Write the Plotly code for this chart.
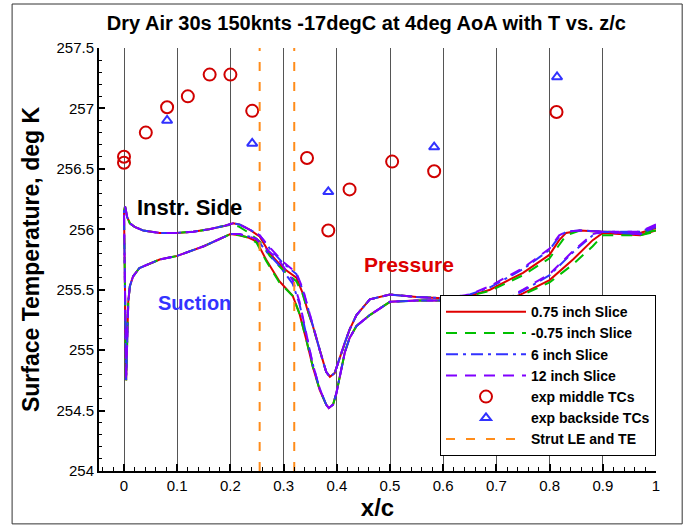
import plotly.graph_objects as go

# ---------------- data ----------------
# Branch A (instrumented side, shallow dip), leading edge -> trailing edge
xa = [0.000, 0.002, 0.006, 0.011, 0.020, 0.036, 0.067, 0.100, 0.130, 0.160, 0.190, 0.205,
      0.217, 0.235, 0.255, 0.274, 0.299, 0.324, 0.336, 0.345, 0.355, 0.368, 0.380, 0.387,
      0.396, 0.405, 0.415, 0.424, 0.437, 0.462, 0.500, 0.550, 0.600, 0.650, 0.688, 0.750,
      0.800, 0.818, 0.831, 0.857, 0.900, 0.970, 1.000]
ta_075 = [256.15, 256.19, 256.10, 256.05, 256.02, 255.99, 255.97, 255.97, 255.98, 256.00, 256.03, 256.05,
          256.04, 256.00, 255.94, 255.80, 255.68, 255.60, 255.47, 255.33, 255.20, 255.00, 254.82, 254.78,
          254.81, 254.92, 255.06, 255.17, 255.29, 255.42, 255.46, 255.44, 255.43, 255.45, 255.50, 255.64,
          255.79, 255.91, 255.97, 255.99, 255.98, 255.97, 256.01]
ta_m075 = [256.15, 256.19, 256.10, 256.05, 256.02, 255.99, 255.97, 255.97, 255.98, 256.00, 256.03, 256.04,
           256.02, 255.97, 255.90, 255.78, 255.66, 255.57, 255.46, 255.33, 255.20, 255.00, 254.82, 254.78,
           254.81, 254.92, 255.06, 255.17, 255.29, 255.42, 255.46, 255.44, 255.43, 255.45, 255.49, 255.62,
           255.76, 255.87, 255.95, 255.99, 255.98, 255.97, 255.99]
ta_6 = [256.15, 256.19, 256.10, 256.05, 256.02, 255.99, 255.97, 255.97, 255.98, 256.00, 256.03, 256.05,
        256.04, 256.00, 255.95, 255.84, 255.72, 255.63, 255.50, 255.35, 255.21, 255.00, 254.82, 254.78,
        254.81, 254.92, 255.06, 255.17, 255.29, 255.42, 255.46, 255.44, 255.43, 255.46, 255.52, 255.67,
        255.83, 255.94, 255.98, 255.99, 255.98, 255.98, 256.03]
ta_12 = [256.15, 256.19, 256.10, 256.05, 256.02, 255.99, 255.97, 255.97, 255.98, 256.00, 256.03, 256.05,
         256.04, 256.00, 255.95, 255.85, 255.73, 255.64, 255.51, 255.36, 255.21, 255.00, 254.82, 254.78,
         254.81, 254.92, 255.06, 255.17, 255.29, 255.42, 255.46, 255.44, 255.43, 255.46, 255.53, 255.68,
         255.84, 255.95, 255.98, 255.99, 255.98, 255.98, 256.04]

# Branch B (other side, deep dip), leading edge -> trailing edge
xb = [0.004, 0.006, 0.008, 0.011, 0.017, 0.029, 0.067, 0.100, 0.150, 0.200, 0.217, 0.235,
      0.249, 0.267, 0.292, 0.317, 0.330, 0.343, 0.355, 0.368, 0.380, 0.385, 0.393, 0.399,
      0.405, 0.415, 0.424, 0.437, 0.462, 0.500, 0.550, 0.600, 0.631, 0.669, 0.700, 0.750,
      0.800, 0.844, 0.881, 0.900, 0.970, 1.000]
tb_075 = [254.75, 255.10, 255.40, 255.53, 255.61, 255.68, 255.75, 255.78, 255.86, 255.96, 255.95, 255.93,
          255.90, 255.75, 255.57, 255.45, 255.30, 255.08, 254.86, 254.67, 254.55, 254.52, 254.55, 254.64,
          254.78, 254.98, 255.10, 255.20, 255.29, 255.40, 255.41, 255.41, 255.39, 255.37, 255.37, 255.47,
          255.58, 255.75, 255.91, 255.97, 255.95, 255.99]
tb_m075 = [254.75, 255.10, 255.40, 255.53, 255.61, 255.68, 255.75, 255.78, 255.86, 255.96, 255.95, 255.93,
           255.89, 255.74, 255.56, 255.45, 255.30, 255.08, 254.86, 254.67, 254.55, 254.52, 254.55, 254.64,
           254.78, 254.98, 255.10, 255.20, 255.29, 255.40, 255.41, 255.41, 255.39, 255.37, 255.37, 255.46,
           255.56, 255.71, 255.86, 255.95, 255.95, 255.98]
tb_6 = [254.75, 255.10, 255.40, 255.53, 255.61, 255.68, 255.75, 255.78, 255.86, 255.96, 255.96, 255.94,
        255.92, 255.82, 255.70, 255.55, 255.38, 255.12, 254.88, 254.68, 254.55, 254.52, 254.55, 254.64,
        254.78, 254.98, 255.10, 255.20, 255.29, 255.40, 255.41, 255.41, 255.39, 255.37, 255.38, 255.49,
        255.62, 255.81, 255.95, 255.98, 255.96, 256.02]
tb_12 = [254.75, 255.10, 255.40, 255.53, 255.61, 255.68, 255.75, 255.78, 255.86, 255.96, 255.96, 255.94,
         255.92, 255.84, 255.74, 255.58, 255.40, 255.13, 254.88, 254.68, 254.55, 254.52, 254.55, 254.64,
         254.78, 254.98, 255.10, 255.20, 255.29, 255.40, 255.41, 255.41, 255.39, 255.37, 255.38, 255.50,
         255.63, 255.82, 255.96, 255.98, 255.96, 256.03]

# experimental thermocouples
exp_mid_x = [0.000, 0.000, 0.041, 0.081, 0.120, 0.161, 0.200, 0.241, 0.344, 0.384, 0.424, 0.504, 0.583, 0.813]
exp_mid_t = [256.60, 256.55, 256.80, 257.01, 257.10, 257.28, 257.28, 256.98, 256.59, 255.99, 256.33, 256.56, 256.48, 256.97]
exp_back_x = [0.081, 0.241, 0.384, 0.583, 0.814]
exp_back_t = [256.90, 256.71, 256.31, 256.68, 257.26]

strut_x = [0.255, 0.320]

slice_names = ["0.75 inch Slice", "-0.75 inch Slice", "6 inch Slice", "12 inch Slice"]
x_ticks = [0, 0.1, 0.2, 0.3, 0.4, 0.5, 0.6, 0.7, 0.8, 0.9, 1]
x_tick_text = ["0", "0.1", "0.2", "0.3", "0.4", "0.5", "0.6", "0.7", "0.8", "0.9", "1"]
y_ticks = [254, 254.5, 255, 255.5, 256, 256.5, 257, 257.5]
y_tick_text = ["254", "254.5", "255", "255.5", "256", "256.5", "257", "257.5"]

# ---------------- figure ----------------
FONT = "Liberation Sans, Arial, sans-serif"
fig = go.Figure()

slices = [(ta_075, tb_075), (ta_m075, tb_m075), (ta_6, tb_6), (ta_12, tb_12)]
styles = [dict(color="#e00000", dash="solid"),
          dict(color="#00c000", dash="11px,8px"),
          dict(color="#3232ff", dash="12px,5px,3px,5px"),
          dict(color="#8000ff", dash="11px,8px")]

for name, (ta, tb), st in zip(slice_names, slices, styles):
    xs = list(reversed(xa)) + xb
    ts = list(reversed(ta)) + tb
    fig.add_trace(go.Scatter(x=xs, y=ts, mode="lines", name=name,
                             line=dict(color=st["color"], dash=st["dash"], width=2)))

fig.add_trace(go.Scatter(x=exp_mid_x, y=exp_mid_t, mode="markers", name="exp middle TCs",
                         marker=dict(symbol="circle-open", size=12, color="#d00000",
                                     line=dict(width=2, color="#d00000"))))
fig.add_trace(go.Scatter(x=exp_back_x, y=exp_back_t, mode="markers", name="exp backside TCs",
                         marker=dict(symbol="triangle-up-open", size=9, color="#3232ff",
                                     line=dict(width=2, color="#3232ff"))))

sx, sy = [], []
for s in strut_x:
    sx += [s, s, None]
    sy += [254, 257.5, None]
fig.add_trace(go.Scatter(x=sx, y=sy, mode="lines", name="Strut LE and TE",
                         line=dict(color="#ff8c1a", dash="9px,11px", width=2)))

fig.add_annotation(x=0.123, y=256.18, text="Instr. Side", showarrow=False,
                   font=dict(family=FONT, size=22, color="black", weight="bold"))
fig.add_annotation(x=0.133, y=255.39, text="Suction", showarrow=False,
                   font=dict(family=FONT, size=20, color="#3333ff", weight="bold"))
fig.add_annotation(x=0.535, y=255.705, text="Pressure", showarrow=False,
                   font=dict(family=FONT, size=21, color="#dd0000", weight="bold"))

# outer frame
fig.add_shape(type="rect", xref="paper", yref="paper", x0=-0.156, x1=1.047, y0=-0.125, y1=1.104,
              line=dict(color="#333", width=1), fillcolor="rgba(0,0,0,0)", layer="below")

fig.update_layout(
    width=686, height=529,
    margin=dict(l=99, r=30, t=48, b=58),
    paper_bgcolor="white", plot_bgcolor="white",
    font=dict(family=FONT, size=15, color="black"),
    title=dict(text="Dry Air 30s 150knts -17degC at 4deg AoA with T vs. z/c",
               xref="paper", x=0.48, xanchor="center", y=1 - 23 / 529, yanchor="middle",
               font=dict(family=FONT, size=20, weight="bold")),
    showlegend=True,
    legend=dict(x=1, xanchor="right", y=0.035, yanchor="bottom",
                bgcolor="white", bordercolor="black", borderwidth=1,
                font=dict(family=FONT, size=14, weight="bold"),
                itemwidth=80, tracegroupgap=0),
    xaxis=dict(range=[-0.047, 1], tickvals=x_ticks, ticktext=x_tick_text,
               showgrid=True, gridcolor="#555", gridwidth=1, zeroline=False,
               showline=True, linecolor="black", linewidth=2,
               ticks="inside", ticklen=7, tickwidth=2, tickcolor="black",
               minor=dict(dtick=0.02, ticks="inside", ticklen=4, tickwidth=1, tickcolor="black", showgrid=False),
               tickfont=dict(size=15),
               title=dict(text="x/c", font=dict(family=FONT, size=24, weight="bold"), standoff=2)),
    yaxis=dict(range=[254, 257.5], tickvals=y_ticks, ticktext=y_tick_text,
               showgrid=False, zeroline=False,
               showline=True, linecolor="black", linewidth=2,
               ticks="inside", ticklen=6, tickwidth=2, tickcolor="black",
               minor=dict(dtick=0.1, ticks="inside", ticklen=3, tickwidth=1, tickcolor="black", showgrid=False),
               tickfont=dict(size=15),
               title=dict(text="Surface Temperature, deg K", font=dict(family=FONT, size=23, weight="bold"),
                          standoff=10)),
)

fig.write_html("out.html")
